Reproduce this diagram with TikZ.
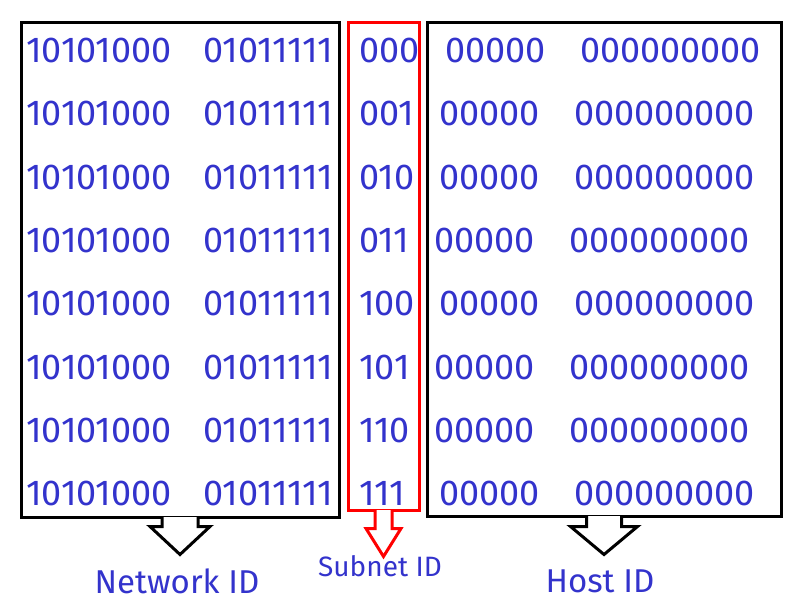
\documentclass[tikz,border=0pt]{standalone}
\usepackage{fontspec}
\usetikzlibrary{calc}
\setmainfont{Fira Sans}[Numbers=Proportional]
\definecolor{BitBlue}{HTML}{3333CC}
\definecolor{SubnetRed}{HTML}{FF0000}

% block arrow hanging under a box: colour, start point, stem half width, head half width, stem length
\newcommand{\blockarrow}[5]{%
  \path[fill=white, draw=#1, line width=3pt, line join=miter]
    ($(#2)+(-#3,-1.5)$) -- ++(0,{#5+1.5}) -- ++({#3-#4},0)
    -- ++(#4,28) -- ++(#4,-28) -- ++({#3-#4},0) -- ++(0,{-#5-1.5});}

\tikzset{
  bits/.style={font=\fontsize{36}{36}\selectfont, text=BitBlue, anchor=west, inner sep=0pt},
  partlabel/.style={font=\fontsize{33}{33}\selectfont, text=BitBlue, inner sep=0pt},
  partbox/.style={draw, line width=3pt, inner sep=0pt}
}

\begin{document}
\begin{tikzpicture}[x=1pt, y=-1pt]
  \useasboundingbox (0,0) rectangle (790,615);

  % The three parts of the address
  \node[partbox, minimum width=318pt, minimum height=494pt] (netbox) at (180,270) {};
  \node[partbox, draw=SubnetRed, minimum width=71pt, minimum height=487pt] (subbox) at (383.5,266.5) {};
  \node[partbox, minimum width=354pt, minimum height=493pt] (hostbox) at (604,269.5) {};

  % Address rows
  \foreach \sub/\dx [count=\i] in {000/11,001/5,010/5,011/0,100/5,101/0,110/0,111/5}{
    \pgfmathsetmacro{\y}{50.5+(\i-1)*63.3}
    \node[bits] (neta\i) at (26,\y) {10101000};
    \node[bits] (netb\i) at (203,\y) {01011111};
    \node[bits] (sub\i) at (359,\y) {\sub};
    \node[bits] (hosta\i) at (434+\dx,\y) {00000};
    \node[bits] (hostb\i) at (569+\dx,\y) {000000000};
  }

  % Arrows down to the names
  \node[partlabel] (netname) at (177,581) {Network ID};
  \node[partlabel, font=\fontsize{28}{28}\selectfont] (subname) at (380,566) {Subnet ID};
  \node[partlabel] (hostname) at (600,581) {Host ID};
  \blockarrow{black}{netbox.south}{18}{30}{8}
  \blockarrow{SubnetRed}{subbox.south}{8.5}{17.5}{17}
  \blockarrow{black}{hostbox.south}{17.5}{33.5}{9}
\end{tikzpicture}
\end{document}
